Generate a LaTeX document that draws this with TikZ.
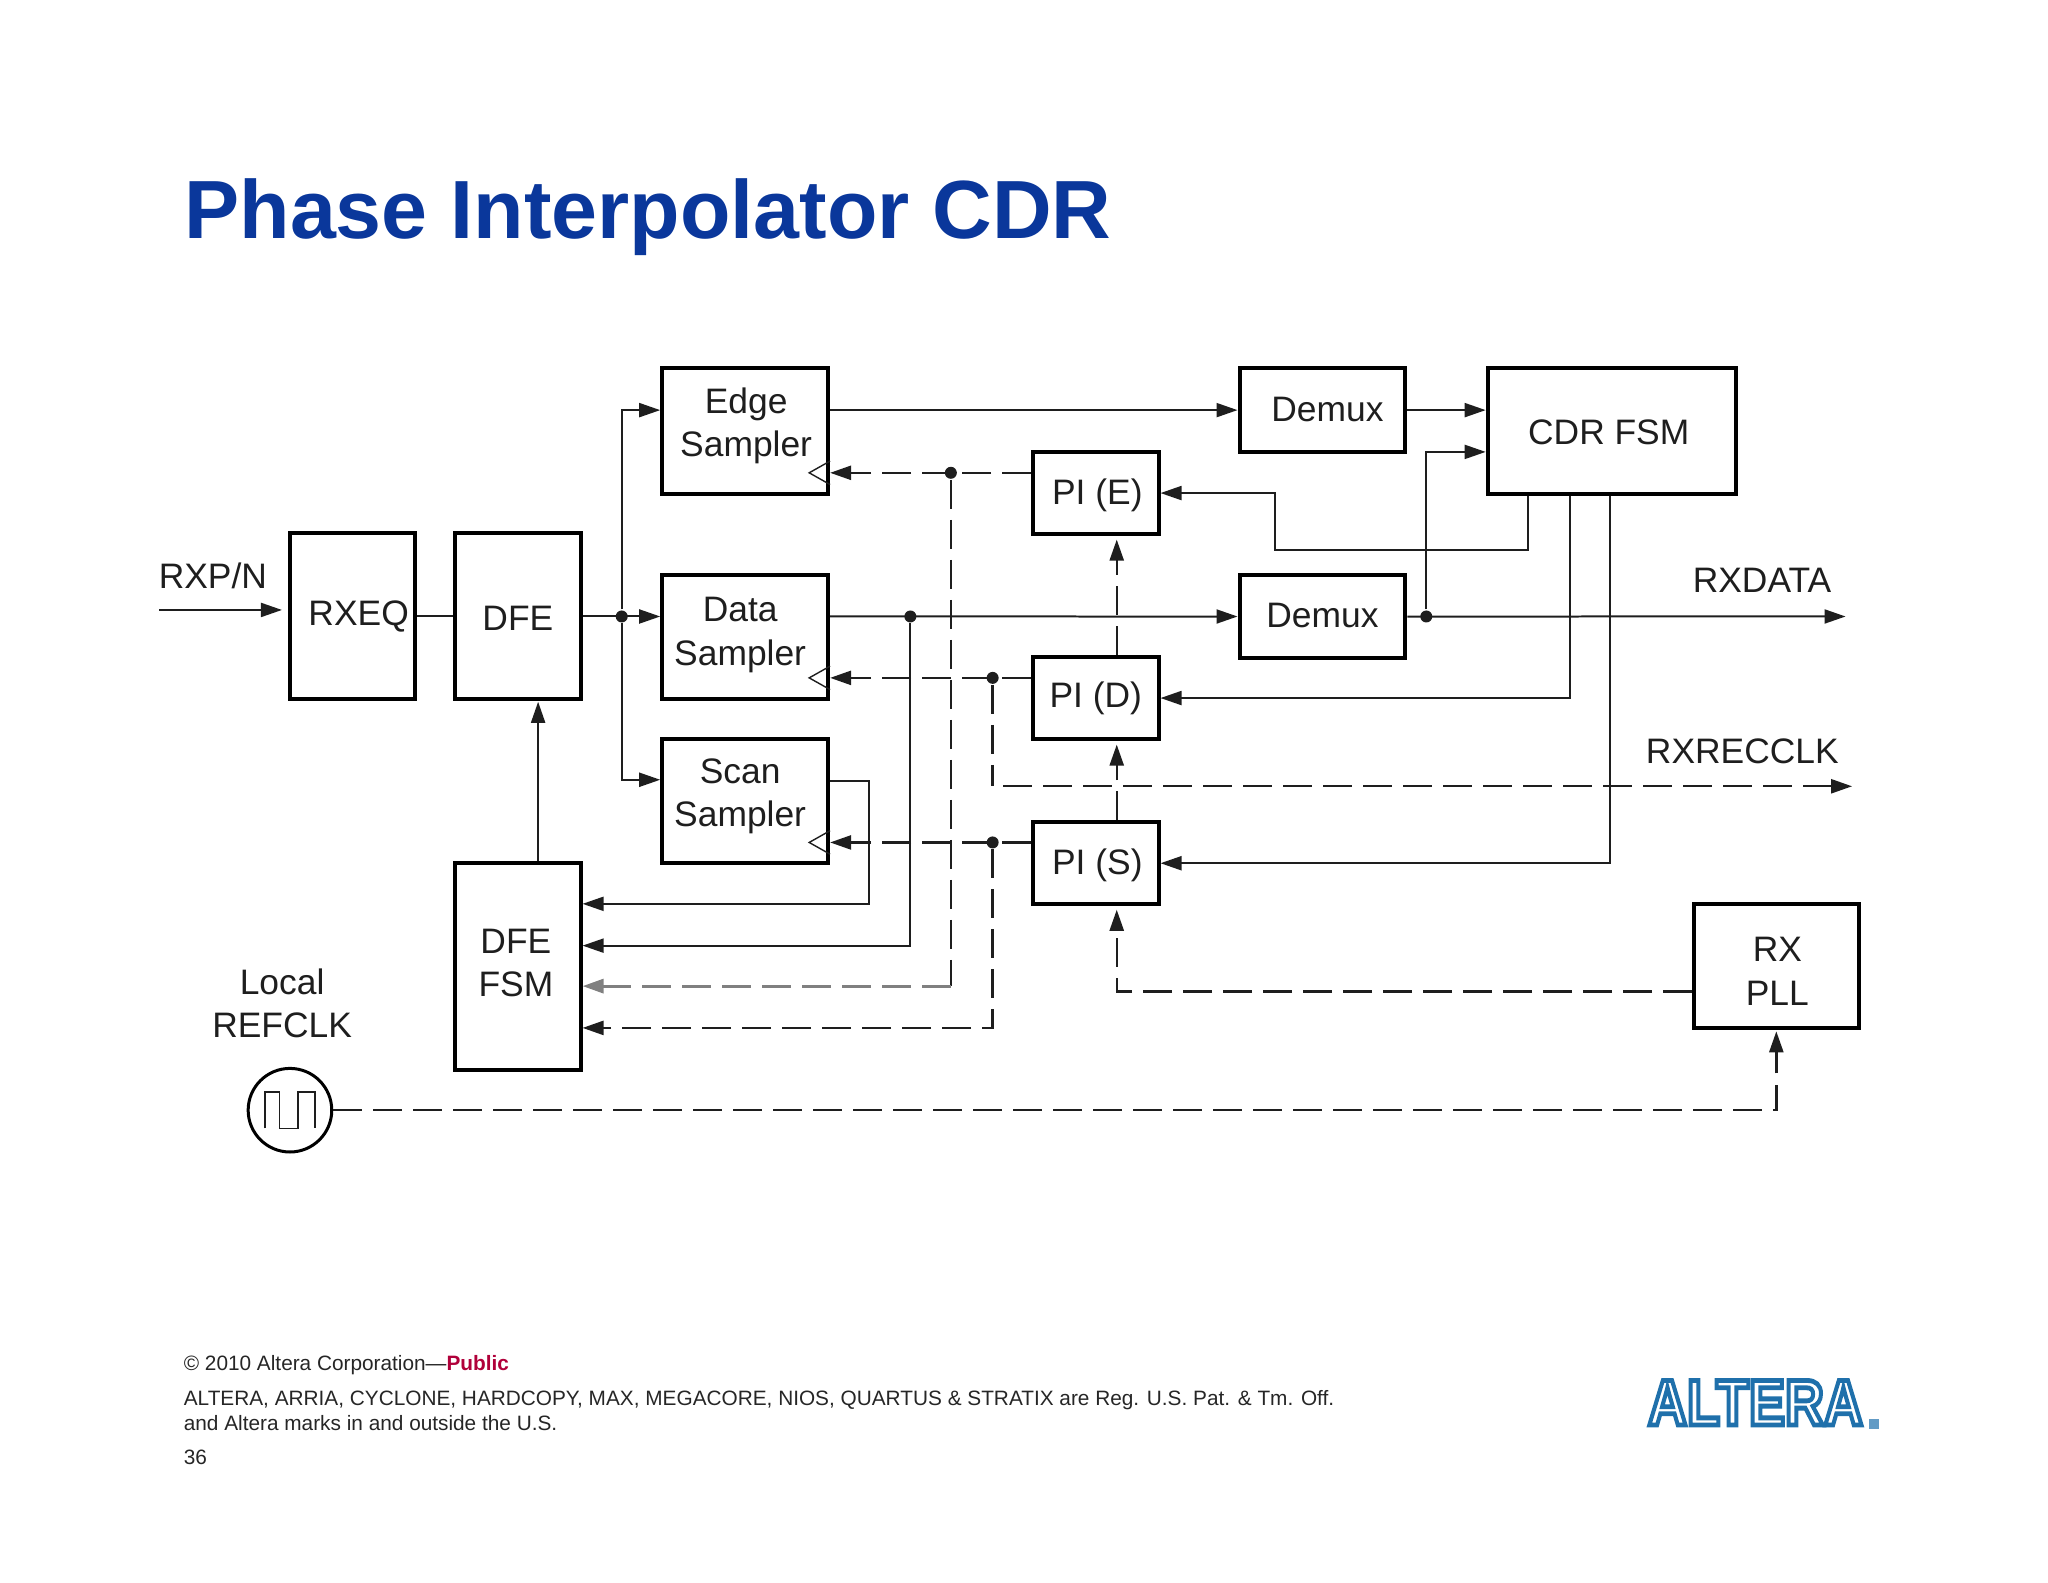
\documentclass[tikz,border=0pt]{standalone}
\usepackage{fontspec}
\setmainfont{Liberation Sans}
\usetikzlibrary{arrows.meta}
\definecolor{judul}{HTML}{0A379B}
\definecolor{garis}{HTML}{1E1E1E}
\definecolor{merah}{HTML}{B0003A}
\definecolor{logo}{HTML}{1F70AC}
% shifts the text inside a box by #1 and #2, lines are in #3
\newcommand{\tk}[3]{\hspace*{#1}\begin{tabular}{@{}c@{}}#3\\[#2]\end{tabular}}

\begin{document}
\begin{tikzpicture}[->,>={Triangle[length=10.5pt,width=7pt]},shorten >=0pt,x=0.6531pt,y=-0.6531pt,line width=1pt,color=garis,
	blok/.style={rectangle,draw=black,line width=2pt,inner sep=0pt,align=center,font=\fontsize{17.7}{21.6}\selectfont},
	kotak/.style 2 args={minimum width=#1*0.6531pt,minimum height=#2*0.6531pt},
	label teks/.style={inner sep=0pt,align=center,font=\fontsize{17.7}{21.6}\selectfont},
	titik/.style={circle,fill=garis,inner sep=0pt,minimum size=6pt},
	putus/.style={dash pattern=on 14.4pt off 5.6pt,line width=1.2pt},
	kaki/.style={inner sep=0pt,anchor=base west,text=black!85,font=\fontsize{10.4}{13}\selectfont}]
	\useasboundingbox (0,0) rectangle (1568,1211.3);

	\node[inner sep=0pt,anchor=base west,text=judul,font=\fontsize{41.3}{48}\selectfont\bfseries] (title) at (140.5,182.5) {Phase Interpolator CDR};

	\node[blok,kotak={96}{127}] (rxeq) at (270,471.5) {\tk{6pt}{-1.5pt}{RXEQ}};
	\node[blok,kotak={96}{127}] (dfe) [right of=rxeq,node distance=82.6pt] {\tk{0pt}{-6pt}{DFE}};
	\node[blok,kotak={96}{158}] (dfefsm) at (396.5,740) {\tk{-2pt}{0pt}{DFE\\FSM}};
	\node[blok,kotak={127}{96}] (edge) at (570.5,330) {\tk{1pt}{5pt}{Edge\\Sampler}};
	\node[blok,kotak={127}{95}] (data) [below of=edge,node distance=102.9pt] {\tk{-5pt}{2pt}{Data\\Sampler}};
	\node[blok,kotak={127}{95}] (scan) [below of=data,node distance=82.3pt] {\tk{-5pt}{5pt}{Scan\\Sampler}};
	\node[blok,kotak={96}{63}] (pie) at (839,377.5) {\tk{1.5pt}{-3pt}{PI (E)}};
	\node[blok,kotak={96}{63}] (pid) [below of=pie,node distance=102.5pt] {\tk{0pt}{-1pt}{PI (D)}};
	\node[blok,kotak={96}{63}] (pis) [below of=pid,node distance=82.6pt] {\tk{1.5pt}{-3pt}{PI (S)}};
	\node[blok,kotak={127}{64}] (demuxa) at (1012.5,314) {\tk{5pt}{-3pt}{Demux}};
	\node[blok,kotak={127}{64}] (demuxb) [below of=demuxa,node distance=103.2pt] {\tk{0pt}{-2.5pt}{Demux}};
	\node[blok,kotak={190}{96}] (cdr) at (1234,330) {\tk{-3pt}{-5pt}{CDR FSM}};
	\node[blok,kotak={126}{95}] (rxpll) at (1360,739.5) {\tk{1pt}{-9pt}{RX\\PLL}};
	\node[circle,draw=black,line width=1.5pt,inner sep=0pt,minimum size=41.8pt] (klok) at (222,850) {};

	\node[label teks] (rxpn) at (163,441) {RXP/N};
	\node[label teks] (rxdatateks) at (1349,444) {RXDATA};
	\node[label teks] (rxrecteks) at (1334,575) {RXRECCLK};
	\node[label teks] (refclk) at (216,768) {Local\\REFCLK};

	\node[titik] (jsam) at (476,472) {};
	\node[titik] (jdat) at (697,472) {};
	\node[titik] (jdem) at (1092,472) {};
	\node[titik] (jpie) at (728,362) {};
	\node[titik] (jpid) at (760,519) {};
	\node[titik] (jpis) at (760,645) {};
	\coordinate (masuk) at (122,467);
	\coordinate (rxdata) at (1413,472);
	\coordinate (rxrec) at (1418,602);
	\coordinate (sudut) at (728,755);

	% solid lines
	\draw[shorten >=3pt] (masuk) -- (masuk -| rxeq.west);
	\draw[-] (rxeq.east |- jsam) -- (dfe.west |- jsam);
	\draw (dfe.east |- jsam) -- (jsam -| data.west);
	\draw (jsam) |- (demuxa -| edge.west);
	\draw (jsam) |- (scan.west |- 0,597);
	\draw (edge.east |- demuxa) -- (demuxa.west);
	\draw (demuxa.east) -- (demuxa.east -| cdr.west);
	\draw (data.east |- jdat) -- (demuxb.west);
	\draw (demuxb.east) -- (rxdata);
	\draw (jdem) |- (cdr.west |- 0,346);
	\draw (jdat) |- (dfefsm.east |- 0,724);
	\draw (scan.east |- 0,598) -| (665,692) -- (dfefsm.east |- 0,692);
	\draw[shorten >=.5pt] (dfefsm.north -| 412,0) -- (dfe.south -| 412,0);
	\draw (cdr.south -| 1170,0) |- (976,421) |- (pie.east);
	\draw (cdr.south -| 1202,0) |- (pid.east);
	\draw (cdr.south -| 1233,0) |- (pis.east);

	% dashed lines
	\draw[putus] (pie.west |- jpie) -- (edge.east |- jpie);
	\draw[putus] (pid.west |- jpid) -- (data.east |- jpid);
	\draw[putus] (pis.west |- jpis) -- (scan.east |- jpis);
	\draw[putus,-] (jpie) -- (sudut);
	\draw[putus,line width=1.6pt,color=black!50] (sudut) -- (dfefsm.east |- sudut);
	\draw[putus,-] (jpid) -- (rxrec -| jpid);
	\draw[putus] (rxrec -| 768,0) -- (rxrec);
	\draw[putus] (jpis) |- (dfefsm.east |- 0,787);
	\draw[putus,shorten >=1.7pt] (pid.north -| 855,0) -- (pie.south -| 855,0);
	\draw[putus,shorten >=1.7pt] (pis.north -| 855,0) -- (pid.south -| 855,0);
	\draw[putus,shorten >=1.7pt] (rxpll.west |- 0,759) -| (pis.south -| 855,0);
	\draw[putus,shorten >=.7pt] (klok.east) -| (rxpll.south -| 1360,0);

	% clock inputs of the samplers
	\draw[-,line width=.7pt] (edge.east |- jpie) ++(0,-9) -- ++(-16,9) -- ++(16,9);
	\draw[-,line width=.7pt] (data.east |- jpid) ++(0,-9) -- ++(-16,9) -- ++(16,9);
	\draw[-,line width=.7pt] (scan.east |- jpis) ++(0,-9) -- ++(-16,9) -- ++(16,9);

	% square wave in the clock
	\draw[-,line width=.8pt] (203,864) -- (203,836) -- (214,836) -- (214,864) -- (228,864) -- (228,836) -- (241,836) -- (241,864);

	\node[kaki] (copy) at (140,1049) {© 2010 Altera Corporation—\textcolor{merah}{\bfseries Public}};
	\node[kaki] (reg) at (140,1076) {ALTERA, ARRIA, CYCLONE, HARDCOPY, MAX, MEGACORE, NIOS, QUARTUS \& STRATIX are Reg. U.S. Pat. \& Tm. Off.};
	\node[kaki] (marks) at (140,1095) {and Altera marks in and outside the U.S.};
	\node[kaki] (page) at (140,1121) {36};

	\node[inner sep=0pt,text=white,anchor=center,font=\fontsize{27}{30}\selectfont\bfseries,yscale=1.2,transform shape] (logoalt) at (1344,1074) {\special{pdf:code q 1 Tr 2 w 0.12 0.44 0.67 RG}ALTERA\special{pdf:code Q}};
	\node[rectangle,fill=logo!70,inner sep=0pt,minimum size=5pt] (logodot) at (1435,1090) {};
\end{tikzpicture}
\end{document}
